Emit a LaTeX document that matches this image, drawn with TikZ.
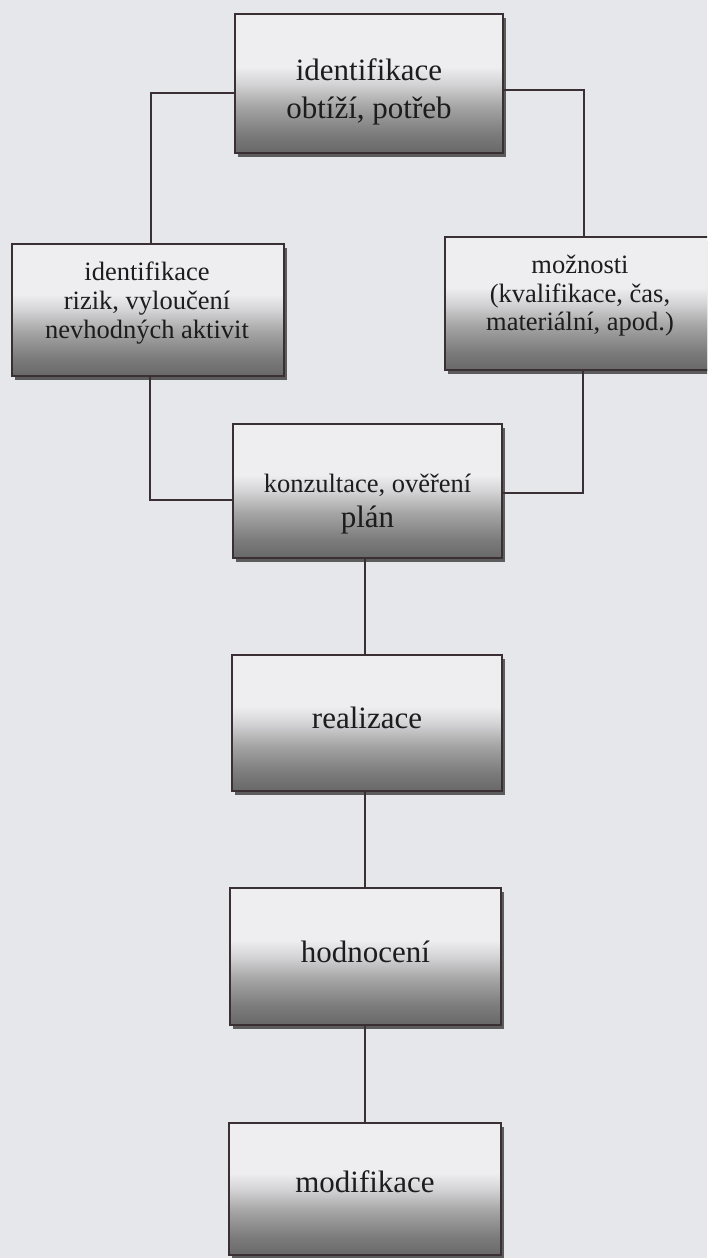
\documentclass[tikz,border=0pt]{standalone}
\usepackage{fontspec}
\setmainfont{Liberation Serif}
\usetikzlibrary{shadows}
\definecolor{bg}{RGB}{229,231,235}
\definecolor{edge}{RGB}{58,48,52}
\definecolor{shd}{RGB}{92,92,92}
\definecolor{ink}{RGB}{28,28,28}
\definecolor{gA}{RGB}{104,104,104}
\definecolor{gB}{RGB}{124,124,124}
\definecolor{gC}{RGB}{166,166,166}
\definecolor{gD}{RGB}{212,212,214}
\definecolor{gE}{RGB}{238,238,240}
\pgfdeclareverticalshading{boxshade}{100bp}{color(0bp)=(gA); color(25bp)=(gA); color(32bp)=(gB); color(42bp)=(gC); color(50bp)=(gD); color(56bp)=(gE); color(75bp)=(gE); color(100bp)=(gE)}
\tikzset{
  flowbox/.style={draw=edge, line width=2pt, shading=boxshade, inner sep=0pt,
    drop shadow={shadow xshift=3pt, shadow yshift=-4pt, fill=shd, opacity=1}},
  bigtxt/.style={font=\fontsize{31}{37}\selectfont, text=ink, inner sep=0pt, anchor=base},
  smalltxt/.style={font=\fontsize{26.5}{31}\selectfont, text=ink, inner sep=0pt, anchor=base},
  link/.style={draw=edge, line width=2pt}
}
\begin{document}
\begin{tikzpicture}[x=1pt,y=-1pt]
\useasboundingbox (0,0) rectangle (707,1258);
\clip (0,0) rectangle (707,1258);
\fill[bg] (0,0) rectangle (707,1258);

% boxes
\node[flowbox, minimum width=268pt, minimum height=139pt] (top) at (369,83.5) {};
\node[flowbox, minimum width=272pt, minimum height=132pt] (left) at (148,310) {};
\node[flowbox, minimum width=270pt, minimum height=133pt] (right) at (580,303.5) {};
\node[flowbox, minimum width=269pt, minimum height=134pt] (konz) at (367.5,491) {};
\node[flowbox, minimum width=270pt, minimum height=136pt] (real) at (367,723) {};
\node[flowbox, minimum width=271pt, minimum height=137pt] (hod) at (365.5,956.5) {};
\node[flowbox, minimum width=272pt, minimum height=132pt] (mod) at (365,1189) {};

% connectors
\draw[link] ([yshift=-9.5pt]top.west) -| ([xshift=3pt]left.north);
\draw[link] ([yshift=-6.5pt]top.east) -| ([xshift=4pt]right.north);
\draw[link] ([xshift=2pt]left.south) |- ([yshift=-9pt]konz.west);
\draw[link] ([xshift=3pt]right.south) |- ([yshift=-2pt]konz.east);
\draw[link] ([xshift=-2.5pt]konz.south) -- ([xshift=-2pt]real.north);
\draw[link] ([xshift=-2pt]real.south) -- ([xshift=-0.5pt]hod.north);
\draw[link] ([xshift=-0.5pt]hod.south) -- (mod.north);

% texts
\node[bigtxt] (t1a) at (369,80) {identifikace};
\node[bigtxt] (t1b) at (369,118) {obtíží, potřeb};
\node[smalltxt] (t2a) at (147,280) {identifikace};
\node[smalltxt] (t2b) at (147,309) {rizik, vyloučení};
\node[smalltxt] (t2c) at (147,338) {nevhodných aktivit};
\node[smalltxt] (t3a) at (580,273) {možnosti};
\node[smalltxt] (t3b) at (580,302) {(kvalifikace, čas,};
\node[smalltxt] (t3c) at (580,330) {materiální, apod.)};
\node[smalltxt] (t4a) at (367.5,492) {konzultace, ověření};
\node[bigtxt] (t4b) at (367.5,527) {plán};
\node[bigtxt] (t5) at (367,728) {realizace};
\node[bigtxt] (t6) at (365.5,962) {hodnocení};
\node[bigtxt] (t7) at (365,1192) {modifikace};
\end{tikzpicture}
\end{document}
